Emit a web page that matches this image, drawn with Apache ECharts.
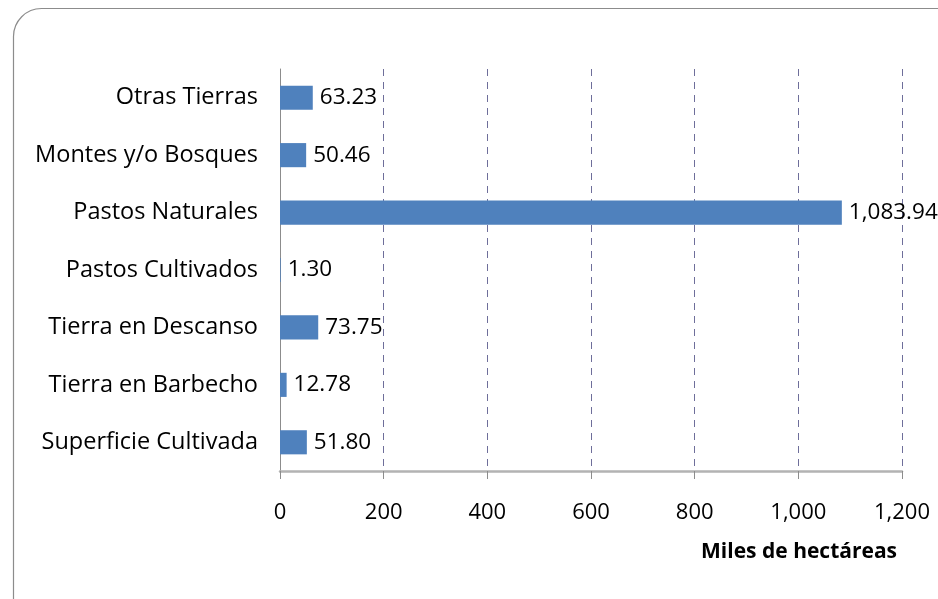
<!DOCTYPE html>
<html><head><meta charset="utf-8">
<script src="https://cdn.jsdelivr.net/npm/echarts@6/dist/echarts.min.js"></script>
<style>html,body{margin:0;padding:0;background:#fff}#c{width:938px;height:599px}</style>
</head><body><div id="c"></div>
<script>
const categories = ['Superficie Cultivada','Tierra en Barbecho','Tierra en Descanso','Pastos Cultivados','Pastos Naturales','Montes y/o Bosques','Otras Tierras'];
const values = [51.80, 12.78, 73.75, 1.30, 1083.94, 50.46, 63.23];
const axisTitle = 'Miles de hectáreas';

const fmt2 = v => v.toLocaleString('en-US',{minimumFractionDigits:2,maximumFractionDigits:2});
const fmt0 = v => v.toLocaleString('en-US');
const font = 'Open Sans';

const chart = echarts.init(document.getElementById('c'), null, {renderer:'canvas'});
chart.setOption({
  animation:false,
  backgroundColor:'#fff',
  graphic:[{type:'rect', shape:{x:13.5,y:8.5,width:980,height:620,r:28}, style:{fill:'none',stroke:'#8c8c8c',lineWidth:1.2}, z:-1}],
  title:{text:axisTitle, right:36, top:537, textStyle:{fontFamily:font,fontSize:21,fontWeight:'bold',color:'#000'}},
  grid:{left:280, right:36, top:69, bottom:128, containLabel:false},
  xAxis:{type:'value', min:0, max:1200, interval:200,
    axisLine:{show:true, lineStyle:{color:'#b3b3b3', width:2.5}},
    axisTick:{show:true, length:8, lineStyle:{color:'#8c8c8c', width:1}},
    axisLabel:{margin:31, fontFamily:font, fontSize:22, color:'#000', formatter:v=>fmt0(v)},
    splitLine:{show:true, lineStyle:{color:'#6e6e9a', type:[7,6], width:1}}
  },
  yAxis:{type:'category', data:categories,
    axisLine:{show:true, lineStyle:{color:'#8c8c8c', width:1}},
    axisTick:{show:false},
    axisLabel:{margin:22, fontFamily:font, fontSize:23.5, color:'#000'}
  },
  series:[{type:'bar', data:values, barCategoryGap:'58%',
    itemStyle:{color:'#4F81BD'},
    label:{show:true, position:'right', distance:7, fontFamily:font, fontSize:22.5, color:'#000', formatter:p=>fmt2(p.value)}
  }]
});
</script></body></html>
